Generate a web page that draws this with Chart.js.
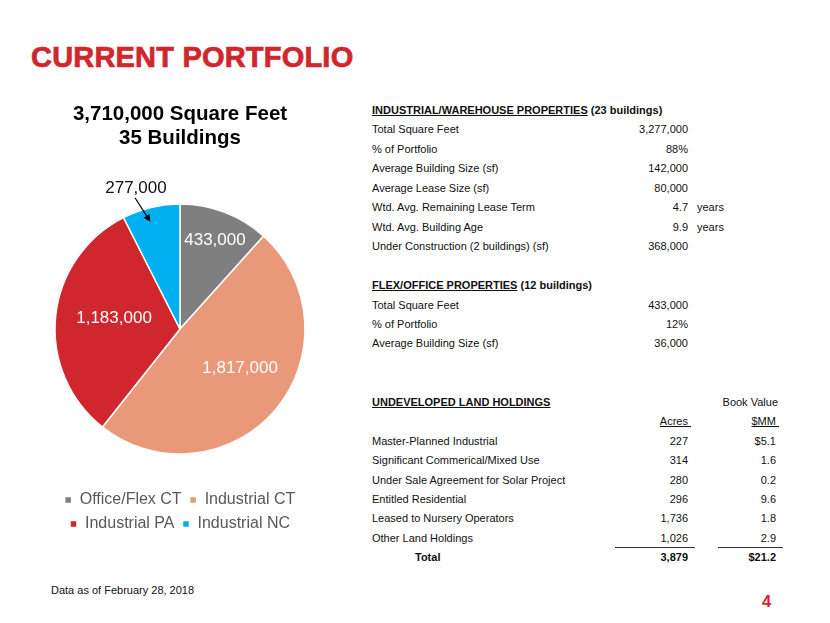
<!DOCTYPE html>
<html><head><meta charset="utf-8">
<script src="https://cdn.jsdelivr.net/npm/chart.js@4/dist/chart.umd.min.js"></script>
<style>
html,body{margin:0;padding:0;background:#fff;}
body{width:830px;height:623px;position:relative;overflow:hidden;font-family:"Liberation Sans",Arial,sans-serif;}
#title{position:absolute;left:31px;top:37px;font-size:29px;font-weight:bold;color:#d0262e;-webkit-text-stroke:0.7px #d0262e;letter-spacing:0.2px;line-height:40px;white-space:nowrap;}
#chartBox{position:absolute;left:30px;top:94px;width:300px;height:448px;}
.t{position:absolute;font-size:11px;line-height:14px;color:#111;white-space:nowrap;}
.b{font-weight:bold;}
.rule{position:absolute;height:1px;background:#333;}
#foot{position:absolute;left:51px;top:583px;font-size:11px;line-height:14px;color:#111;}
#page{position:absolute;left:762px;top:591px;font-size:16.5px;line-height:20px;font-weight:bold;color:#d0262e;}
</style>
</head><body>
<div id="title">CURRENT PORTFOLIO</div>
<div id="chartBox"><canvas id="c"></canvas></div>
<div id="tables"></div>
<div id="foot">Data as of February 28, 2018</div>
<div id="page">4</div>
<script>
// ---- data ----
const categories = ['Office/Flex CT', 'Industrial CT', 'Industrial PA', 'Industrial NC'];
const squareFeet = [433000, 1817000, 1183000, 277000];
const chartTitle = ['3,710,000 Square Feet', '35 Buildings'];

const industrialHeader = ['INDUSTRIAL/WAREHOUSE PROPERTIES', ' (23 buildings)'];
const industrialLabels = ['Total Square Feet', '% of Portfolio', 'Average Building Size (sf)', 'Average Lease Size (sf)', 'Wtd. Avg. Remaining Lease Term', 'Wtd. Avg. Building Age', 'Under Construction (2 buildings) (sf)'];
const industrialValues = ['3,277,000', '88%', '142,000', '80,000', '4.7', '9.9', '368,000'];
const industrialUnits = ['', '', '', '', 'years', 'years', ''];

const flexHeader = ['FLEX/OFFICE PROPERTIES', ' (12 buildings)'];
const flexLabels = ['Total Square Feet', '% of Portfolio', 'Average Building Size (sf)'];
const flexValues = ['433,000', '12%', '36,000'];

const landHeader = 'UNDEVELOPED LAND HOLDINGS';
const landLabels = ['Master-Planned Industrial', 'Significant Commerical/Mixed Use', 'Under Sale Agreement for Solar Project', 'Entitled Residential', 'Leased to Nursery Operators', 'Other Land Holdings'];
const landAcres = ['227', '314', '280', '296', '1,736', '1,026'];
const landBook = ['$5.1', '1.6', '0.2', '9.6', '1.8', '2.9'];
const landTotal = ['Total', '3,879', '$21.2'];

// ---- style ----
const colors = ['#7f7f7f', '#e9997a', '#d0262e', '#00b0f0'];
const labelRadius = [0.76, 0.573, 0.535, 0.89];
const labelAngleShift = [0.6, -7.2, 3.8, -2];
const labelInside = [true, true, true, false];
const FONT = '"Liberation Sans", Arial, sans-serif';

// ---- tables ----
const tables = document.getElementById('tables');
const ROW0 = 110, ROWH = 19.45;
const XL = 372, XV = 688, XU = 697, XB = 776;
function txt(html, x, row, align, cls) {
  const d = document.createElement('div');
  d.className = 't' + (cls ? ' ' + cls : '');
  d.innerHTML = html;
  d.style.top = (ROW0 + row * ROWH - 7) + 'px';
  if (align === 'right') d.style.right = (830 - x) + 'px'; else d.style.left = x + 'px';
  tables.appendChild(d);
}
txt('<u>' + industrialHeader[0] + '</u>' + industrialHeader[1], XL, 0, 'left', 'b');
industrialLabels.forEach((l, i) => {
  txt(l, XL, i + 1);
  txt(industrialValues[i], XV, i + 1, 'right');
  if (industrialUnits[i]) txt(industrialUnits[i], XU, i + 1);
});
txt('<u>' + flexHeader[0] + '</u>' + flexHeader[1], XL, 9, 'left', 'b');
flexLabels.forEach((l, i) => {
  txt(l, XL, i + 10);
  txt(flexValues[i], XV, i + 10, 'right');
});
txt('<u>' + landHeader + '</u>', XL, 15, 'left', 'b');
txt('Book Value', 778, 15, 'right');
txt('<u>Acres&nbsp;</u>', 691, 16, 'right');
txt('<u>$MM&nbsp;</u>', 779, 16, 'right');
landLabels.forEach((l, i) => {
  txt(l, XL, i + 17);
  txt(landAcres[i], XV, i + 17, 'right');
  txt(landBook[i], XB, i + 17, 'right');
});
txt(landTotal[0], 415, 23, 'left', 'b');
txt(landTotal[1], XV, 23, 'right', 'b');
txt(landTotal[2], XB, 23, 'right', 'b');
[[615, 695], [718, 783]].forEach(([a, b]) => {
  const r = document.createElement('div');
  r.className = 'rule';
  r.style.left = a + 'px'; r.style.width = (b - a) + 'px';
  r.style.top = (ROW0 + 22.5 * ROWH - 0.5) + 'px';
  tables.appendChild(r);
});

// ---- chart ----
const sliceLabels = {
  id: 'sliceLabels',
  afterDatasetsDraw(chart) {
    const ctx = chart.ctx;
    const meta = chart.getDatasetMeta(0);
    meta.data.forEach((arc, i) => {
      const p = arc.getProps(['startAngle', 'endAngle', 'outerRadius', 'x', 'y'], true);
      const mid = (p.startAngle + p.endAngle) / 2 + labelAngleShift[i] * Math.PI / 180;
      const text = squareFeet[i].toLocaleString('en-US');
      ctx.save();
      ctx.font = '17px ' + FONT;
      ctx.textAlign = 'center';
      ctx.textBaseline = 'middle';
      if (labelInside[i]) {
        const r = p.outerRadius * labelRadius[i];
        ctx.fillStyle = '#ffffff';
        ctx.fillText(text, p.x + Math.cos(mid) * r, p.y + Math.sin(mid) * r);
      } else {
        const tipR = p.outerRadius * labelRadius[i];
        const tx = p.x + Math.cos(mid) * tipR, ty = p.y + Math.sin(mid) * tipR;
        const sa = mid - 3.5 * Math.PI / 180, sr = p.outerRadius * 1.11;
        const sx = p.x + Math.cos(sa) * sr, sy = p.y + Math.sin(sa) * sr;
        ctx.strokeStyle = '#000'; ctx.fillStyle = '#000'; ctx.lineWidth = 1.2;
        const ang = Math.atan2(ty - sy, tx - sx);
        const hl = 7, hw = 3.5;
        const bx = tx - Math.cos(ang) * hl, by = ty - Math.sin(ang) * hl;
        ctx.beginPath(); ctx.moveTo(sx, sy); ctx.lineTo(bx, by); ctx.stroke();
        ctx.beginPath();
        ctx.moveTo(tx, ty);
        ctx.lineTo(bx + Math.sin(ang) * hw, by - Math.cos(ang) * hw);
        ctx.lineTo(bx - Math.sin(ang) * hw, by + Math.cos(ang) * hw);
        ctx.closePath(); ctx.fill();
        ctx.fillStyle = '#111';
        ctx.fillText(text, sx + 1, sy - 9);
      }
      ctx.restore();
    });
  }
};

new Chart(document.getElementById('c'), {
  type: 'pie',
  data: {
    labels: categories,
    datasets: [{
      data: squareFeet,
      backgroundColor: colors,
      borderColor: '#ffffff',
      borderWidth: 1.5,
      radius: 125
    }]
  },
  options: {
    responsive: true,
    maintainAspectRatio: false,
    animation: false,
    events: [],
    layout: { padding: 0 },
    plugins: {
      title: {
        display: true,
        text: chartTitle,
        color: '#000',
        font: { family: FONT, size: 20.5, weight: 'bold', lineHeight: 1.17 },
        padding: { top: 8, bottom: 24 }
      },
      legend: {
        position: 'bottom',
        labels: {
          color: '#595959',
          font: { family: FONT, size: 16 },
          boxWidth: 7,
          boxHeight: 7,
          padding: 8
        }
      },
      tooltip: { enabled: false }
    }
  },
  plugins: [sliceLabels]
});
</script>
</body></html>
